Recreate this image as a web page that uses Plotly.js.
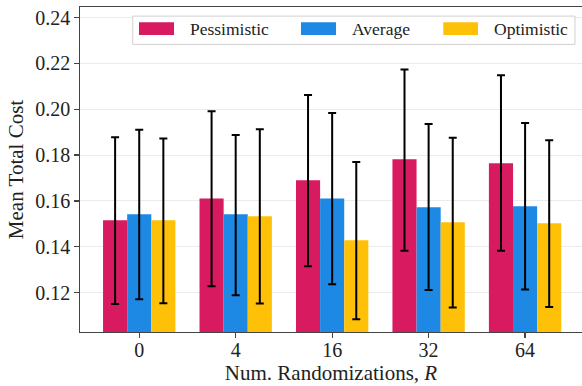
<!DOCTYPE html>
<html>
<head>
<meta charset="utf-8">
<script src="https://cdn.plot.ly/plotly-3.0.1.min.js"></script>
<style>html,body{margin:0;padding:0;background:#fff;}#chart{width:582px;height:386px;}</style>
</head>
<body>
<div id="chart"></div>
<script>
const categories = ['0', '4', '16', '32', '64'];
const seriesNames = ['Pessimistic', 'Average', 'Optimistic'];
const seriesColors = ['#D81B60', '#1E88E5', '#FFC107'];

const pessimistic = [0.1516, 0.1611, 0.1690, 0.1782, 0.1764];
const pessimisticHigh = [0.1878, 0.1991, 0.2062, 0.2173, 0.2148];
const pessimisticLow = [0.1150, 0.1228, 0.1315, 0.1383, 0.1382];

const average = [0.1542, 0.1542, 0.1611, 0.1572, 0.1577];
const averageHigh = [0.1910, 0.1888, 0.1984, 0.1936, 0.1940];
const averageLow = [0.1171, 0.1188, 0.1236, 0.1211, 0.1213];

const optimistic = [0.1516, 0.1533, 0.1428, 0.1507, 0.1502];
const optimisticHigh = [0.1872, 0.1913, 0.1770, 0.1876, 0.1865];
const optimisticLow = [0.1153, 0.1152, 0.1084, 0.1135, 0.1137];

const yTicks = [0.12, 0.14, 0.16, 0.18, 0.20, 0.22, 0.24];

const FONT = 'Liberation Serif, DejaVu Serif, serif';

const series = [
  [pessimistic, pessimisticHigh, pessimisticLow],
  [average, averageHigh, averageLow],
  [optimistic, optimisticHigh, optimisticLow]
];

const traces = series.map(function (s, i) {
  const vals = s[0], hi = s[1], lo = s[2];
  return {
    type: 'bar',
    name: seriesNames[i],
    x: categories,
    y: vals,
    marker: {color: seriesColors[i], line: {width: 0}},
    error_y: {
      type: 'data',
      symmetric: false,
      array: hi.map(function (h, k) { return h - vals[k]; }),
      arrayminus: lo.map(function (l, k) { return vals[k] - l; }),
      color: '#000000',
      thickness: 2,
      width: 4
    },
    showlegend: false,
    hoverinfo: 'skip'
  };
});

// Custom legend (matplotlib-style wide swatches), positioned in paper coords
const legendSwatchX = [[0.1175, 0.1873], [0.4402, 0.5100], [0.7237, 0.7928]];
const legendTextX = [0.2145, 0.5378, 0.8201];
const shapes = [{
  type: 'rect', xref: 'paper', yref: 'paper',
  x0: 0.105, x1: 0.986, y0: 0.885, y1: 0.972,
  fillcolor: 'rgba(255,255,255,0.9)', line: {color: '#d0d0d0', width: 1}, layer: 'above'
}];
const annotations = [];
seriesNames.forEach(function (n, i) {
  shapes.push({
    type: 'rect', xref: 'paper', yref: 'paper',
    x0: legendSwatchX[i][0], x1: legendSwatchX[i][1], y0: 0.9138, y1: 0.9529,
    fillcolor: seriesColors[i], line: {width: 0}, layer: 'above'
  });
  annotations.push({
    xref: 'paper', yref: 'paper', x: legendTextX[i], y: 0.9335,
    xanchor: 'left', yanchor: 'middle', showarrow: false,
    text: n, font: {family: FONT, size: 17.5, color: '#222'}
  });
});

const layout = {
  width: 582,
  height: 386,
  margin: {l: 80, r: 0, t: 7, b: 54, pad: 0},
  paper_bgcolor: '#ffffff',
  plot_bgcolor: '#ffffff',
  font: {family: FONT, size: 20, color: '#222'},
  bargap: 0.25,
  bargroupgap: 0,
  barmode: 'group',
  showlegend: false,
  xaxis: {
    type: 'category',
    range: [-0.614, 4.59],
    showgrid: false,
    showline: true,
    linecolor: '#444',
    linewidth: 1.3,
    mirror: true,
    ticks: 'outside',
    ticklen: 4.5,
    tickwidth: 1.2,
    tickcolor: '#444',
    ticklabelstandoff: -5,
    tickfont: {family: FONT, size: 20, color: '#222'},
    title: {text: 'Num. Randomizations, <i>R</i>', font: {family: FONT, size: 21, color: '#222'}, standoff: 0},
    automargin: false,
    zeroline: false,
    fixedrange: true
  },
  yaxis: {
    range: [0.1028, 0.2446],
    tickvals: yTicks,
    ticktext: yTicks.map(function (v) { return v.toFixed(2); }),
    showgrid: true,
    gridcolor: '#ebebeb',
    gridwidth: 1,
    showline: true,
    linecolor: '#444',
    linewidth: 1.3,
    mirror: false,
    ticks: 'outside',
    ticklen: 4.5,
    tickwidth: 1.2,
    tickcolor: '#444',
    tickfont: {family: FONT, size: 20, color: '#222'},
    title: {text: 'Mean Total Cost', font: {family: FONT, size: 21, color: '#222'}, standoff: 6},
    automargin: false,
    zeroline: false,
    fixedrange: true
  },
  shapes: shapes,
  annotations: annotations
};

Plotly.newPlot('chart', traces, layout, {displayModeBar: false, staticPlot: true});
</script>
</body>
</html>
